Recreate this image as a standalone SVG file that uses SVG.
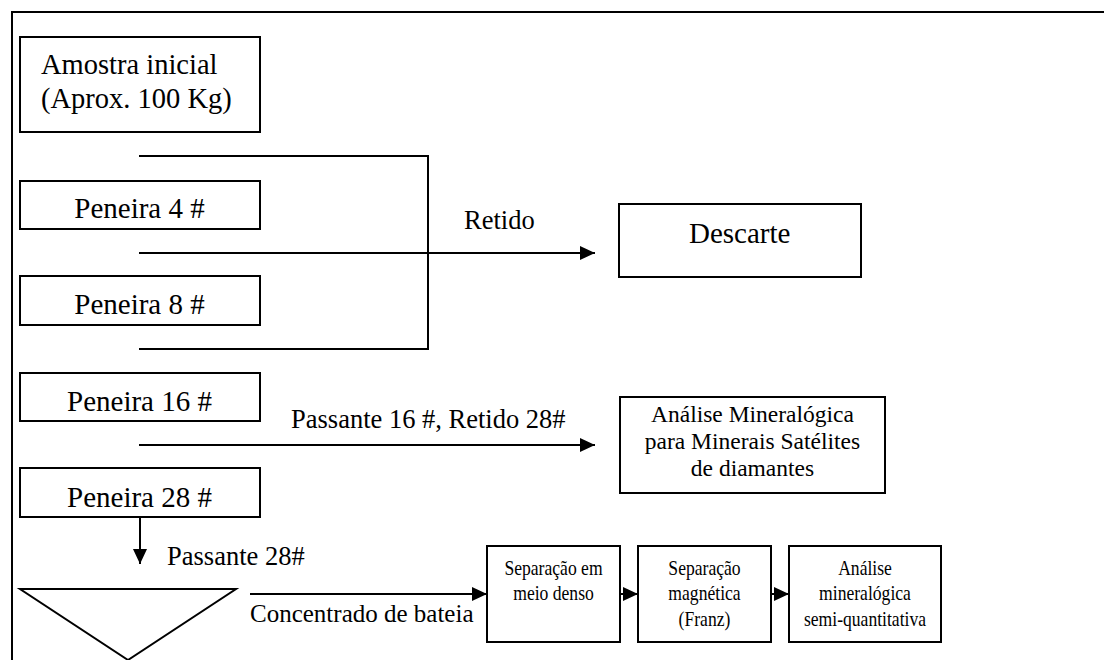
<svg xmlns="http://www.w3.org/2000/svg" width="1104" height="660" viewBox="0 0 1104 660">
<style>
.box{fill:#fff;stroke:#000;stroke-width:2}
.ln{fill:none;stroke:#000;stroke-width:2}
text{font-family:"Liberation Serif","Times New Roman",serif;fill:#000}
.big{font-size:29px}
.lbl{font-size:26.5px}
.sm{font-size:23.5px}
.xs{font-size:20px}
.c{text-anchor:middle}
</style>
<defs>
<marker id="ah" markerUnits="userSpaceOnUse" markerWidth="16" markerHeight="16" viewBox="0 0 16 16" refX="15" refY="8" orient="auto">
<polygon points="0,1 15,8 0,15" fill="#000"/>
</marker>
</defs>
<rect width="1104" height="660" fill="#fff"/>
<path class="ln" d="M12,660 V12 H1104"/>
<g id="amostra"><rect class="box" x="20" y="37" width="240" height="95"/><text class="big" style="font-size:28.5px" x="41" y="74">Amostra inicial</text><text class="big" style="font-size:28.5px" x="41" y="108">(Aprox. 100 Kg)</text></g>
<g id="peneira4"><rect class="box" x="20" y="181" width="240" height="48"/><text class="big c" x="139.5" y="218">Peneira 4 #</text></g>
<g id="peneira8"><rect class="box" x="20" y="276" width="240" height="49"/><text class="big c" x="139.5" y="314">Peneira 8 #</text></g>
<g id="peneira16"><rect class="box" x="20" y="373" width="240" height="48"/><text class="big c" x="139.5" y="411">Peneira 16 #</text></g>
<g id="peneira28"><rect class="box" x="20" y="468" width="240" height="49"/><text class="big c" x="139.5" y="507">Peneira 28 #</text></g>
<g id="descarte"><rect class="box" x="619" y="204" width="242" height="73"/><text class="big" x="689" y="243">Descarte</text></g>
<g id="analise1"><rect class="box" x="620" y="397" width="265" height="96"/><text class="sm c" x="752.5" y="422">Análise Mineralógica</text><text class="sm c" x="752.5" y="449">para Minerais Satélites</text><text class="sm c" x="752.5" y="476">de diamantes</text></g>
<g id="bateia"><polygon class="ln" points="20,589 236,589 128,660"/></g>
<g id="sep1"><rect class="box" x="487" y="546" width="133" height="96"/><g transform="translate(553.5 0) scale(0.88 1)"><text class="xs c" x="0" y="575">Separação em</text><text class="xs c" x="0" y="600">meio denso</text></g></g>
<g id="sep2"><rect class="box" x="638" y="546" width="133" height="96"/><g transform="translate(704.5 0) scale(0.88 1)"><text class="xs c" x="0" y="575">Separação</text><text class="xs c" x="0" y="600">magnética</text><text class="xs c" x="0" y="626">(Franz)</text></g></g>
<g id="analise2"><rect class="box" x="789" y="546" width="152" height="96"/><g transform="translate(865 0) scale(0.88 1)"><text class="xs c" x="0" y="575">Análise</text><text class="xs c" x="0" y="600">mineralógica</text><text class="xs c" x="0" y="626">semi-quantitativa</text></g></g>
<g id="connectors">
<path class="ln" d="M139,156 H428 V349 H139"/>
<path class="ln" d="M139,253 H595" marker-end="url(#ah)"/>
<path class="ln" d="M139,445 H595" marker-end="url(#ah)"/>
<path class="ln" d="M140,517 V564" marker-end="url(#ah)"/>
<path class="ln" d="M250,594 H487" marker-end="url(#ah)"/>
<path class="ln" d="M620,594 H638" marker-end="url(#ah)"/>
<path class="ln" d="M771,594 H789" marker-end="url(#ah)"/>
<text class="lbl" x="464" y="229">Retido</text>
<text class="lbl" x="291" y="428">Passante 16 #, Retido 28#</text>
<text class="lbl" x="167" y="565">Passante 28#</text>
<text class="lbl" style="font-size:25px" x="250" y="622">Concentrado de bateia</text>
</g>
</svg>
